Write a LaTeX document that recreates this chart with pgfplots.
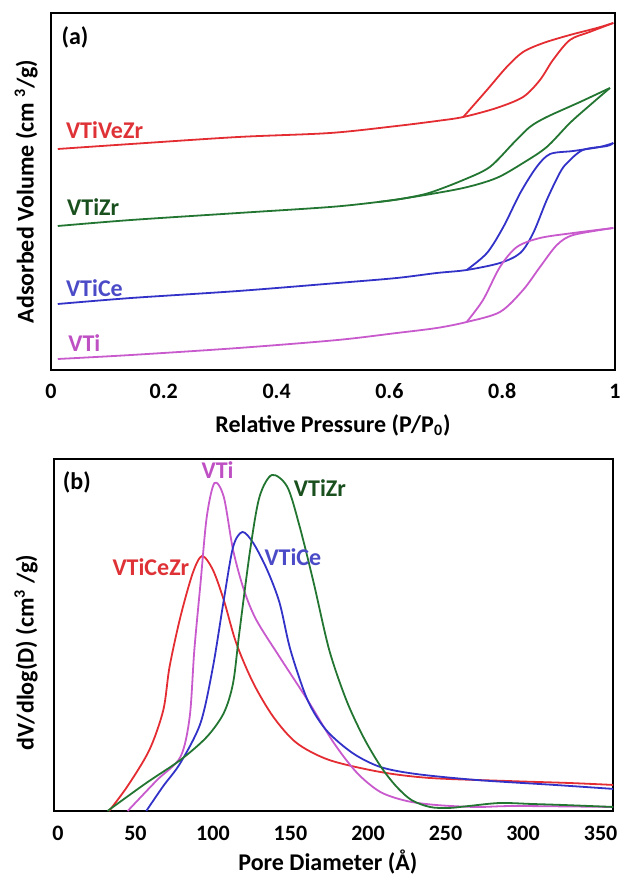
\documentclass[border=0pt]{standalone}
\usepackage{fontspec}
\setmainfont{Carlito}
\usepackage{pgfplots}
\pgfplotsset{compat=1.18}
\definecolor{cred}{RGB}{228,45,50}
\definecolor{cgreen}{RGB}{35,118,50}
\definecolor{cblue}{RGB}{50,50,200}
\definecolor{cmag}{RGB}{200,90,205}
\definecolor{lred}{RGB}{222,50,55}
\definecolor{lgreen}{RGB}{25,80,30}
\definecolor{lblue}{RGB}{75,75,200}
\definecolor{lmag}{RGB}{190,80,195}
\pgfplotsset{
  common/.style={
    scale only axis, anchor=south west,
    axis line style={line width=1.2pt},
    major tick length=0pt,
    ytick=\empty,
    every axis plot/.append style={line width=0.9pt, no markers, smooth, tension=0.5},
    xticklabel style={font=\fontsize{11}{13}\selectfont\bfseries, anchor=center},
    label style={font=\fontsize{12}{14}\selectfont\bfseries},
    xlabel style={anchor=center},
    ylabel style={anchor=center},
  },
}
\tikzset{lab/.style={font=\fontsize{12}{14}\selectfont\bfseries, inner sep=0pt}}
\begin{document}
\begin{tikzpicture}
\path[use as bounding box] (0,0) rectangle (311pt,437pt);
% ---------------- (a) ----------------
\begin{axis}[common,
  at={(25.5pt,252pt)}, width=282pt, height=178.5pt,
  xmin=0, xmax=1, ymin=0, ymax=357,
  xtick={0,0.2,0.4,0.6,0.8,1}, xticklabels={0,0.2,0.4,0.6,0.8,1},
  xticklabel style={yshift=-10.5pt},
  xlabel={Relative Pressure (P/P\textsubscript{0})},
  xlabel style={at={(axis description cs:0.5,-0.154)}},
  ylabel={Adsorbed Volume (cm \textsuperscript{3}/g)},
  ylabel style={at={(axis description cs:-0.044,0.5)}},
]
% red VTiVeZr
\addplot[cred] coordinates {(0.012,221) (0.142,226) (0.332,233) (0.495,237) (0.613,244) (0.684,249) (0.731,253) (0.790,262) (0.837,273) (0.867,290) (0.890,310) (0.920,330) (0.955,338) (0.997,347)};
\addplot[cred] coordinates {(0.997,347) (0.968,342) (0.920,335) (0.873,327) (0.837,318) (0.808,303) (0.773,280) (0.731,253)};
% green VTiZr
\addplot[cgreen] coordinates {(0.012,144) (0.142,150) (0.332,157) (0.495,163) (0.580,168) (0.642,173) (0.731,182) (0.790,192) (0.837,207) (0.879,223) (0.920,247) (0.956,265) (0.991,282)};
\addplot[cgreen] coordinates {(0.991,282) (0.938,268) (0.879,253) (0.849,243) (0.820,227) (0.778,203) (0.731,190) (0.670,177) (0.620,171) (0.580,168)};
% blue VTiCe
\addplot[cblue] coordinates {(0.012,66) (0.142,72) (0.332,79) (0.508,87) (0.613,92) (0.684,97) (0.737,100) (0.796,107) (0.832,117) (0.855,137) (0.879,170) (0.902,197) (0.915,207) (0.943,220) (0.986,224) (0.997,227)};
\addplot[cblue] coordinates {(0.997,227) (0.973,223) (0.926,219) (0.885,216) (0.861,203) (0.832,177) (0.802,143) (0.773,117) (0.737,100)};
% magenta VTi
\addplot[cmag] coordinates {(0.012,11) (0.142,15) (0.332,22) (0.508,30) (0.613,37) (0.684,42) (0.737,48) (0.796,58) (0.837,80) (0.867,103) (0.897,125) (0.926,135) (0.997,142)};
\addplot[cmag] coordinates {(0.997,142) (0.926,137) (0.867,132) (0.826,123) (0.796,103) (0.766,70) (0.737,48)};
\node[lab, anchor=west] at (axis cs:0.018,333) {(a)};
\node[lab, anchor=west, text=lred] at (axis cs:0.026,240) {VTiVeZr};
\node[lab, anchor=west, text=lgreen] at (axis cs:0.028,163) {VTiZr};
\node[lab, anchor=west, text=lblue] at (axis cs:0.026,82) {VTiCe};
\node[lab, anchor=west, text=lmag] at (axis cs:0.030,27) {VTi};
\end{axis}
% ---------------- (b) ----------------
\begin{axis}[common,
  at={(27pt,31.5pt)}, width=279.5pt, height=176pt,
  xmin=-2.5, xmax=358, ymin=0, ymax=352,
  xtick={0,50,100,150,200,250,300,350}, xticklabels={0,50,100,150,200,250,300,350},
  xticklabel style={yshift=-11pt},
  xlabel={Pore Diameter (Å)},
  xlabel style={at={(axis description cs:0.49,-0.145)}},
  ylabel={dV/dlog(D) (cm\textsuperscript{3} /g)},
  ylabel style={at={(axis description cs:-0.05,0.45)}},
]
% red VTiCeZr
\addplot[cred] coordinates {(33,0) (45,25) (59,61) (68,101) (72,144) (79,194) (87,238) (93,255) (100,241) (107,211) (115,168) (126,128) (139,94) (154,68) (175,51) (208,39) (240,33) (290,30) (330,28) (359,26)};
% magenta VTi
\addplot[cmag] coordinates {(45,0) (64,31) (79,54) (85,94) (88,161) (92,228) (96,294) (101,328) (107,314) (113,261) (120,221) (128,191) (143,154) (161,111) (178,68) (193,38) (208,19) (225,10) (244,6) (270,4) (295,5) (359,4)};
% blue VTiCe
\addplot[cblue] coordinates {(57,0) (68,25) (79,48) (92,88) (100,144) (107,211) (113,264) (119,279) (126,268) (135,241) (143,208) (150,161) (161,111) (173,81) (190,58) (208,44) (231,37) (270,31) (321,26) (359,22)};
% green VTiZr
\addplot[cgreen] coordinates {(32,0) (57,28) (79,51) (96,74) (107,98) (113,128) (117,178) (124,261) (130,314) (138,336) (148,324) (156,284) (165,228) (175,161) (186,111) (197,74) (208,45) (218,25) (228,11) (240,4) (252,3) (265,5) (285,8) (306,7) (326,6) (359,4)};
\node[lab, anchor=west] at (axis cs:3,329) {(b)};
\node[lab, text=lmag] at (axis cs:103,341) {VTi};
\node[lab, anchor=west, text=lgreen] at (axis cs:152,323) {VTiZr};
\node[lab, anchor=west, text=lblue] at (axis cs:133,254) {VTiCe};
\node[lab, anchor=east, text=lred] at (axis cs:85,244) {VTiCeZr};
\end{axis}
\end{tikzpicture}
\end{document}
